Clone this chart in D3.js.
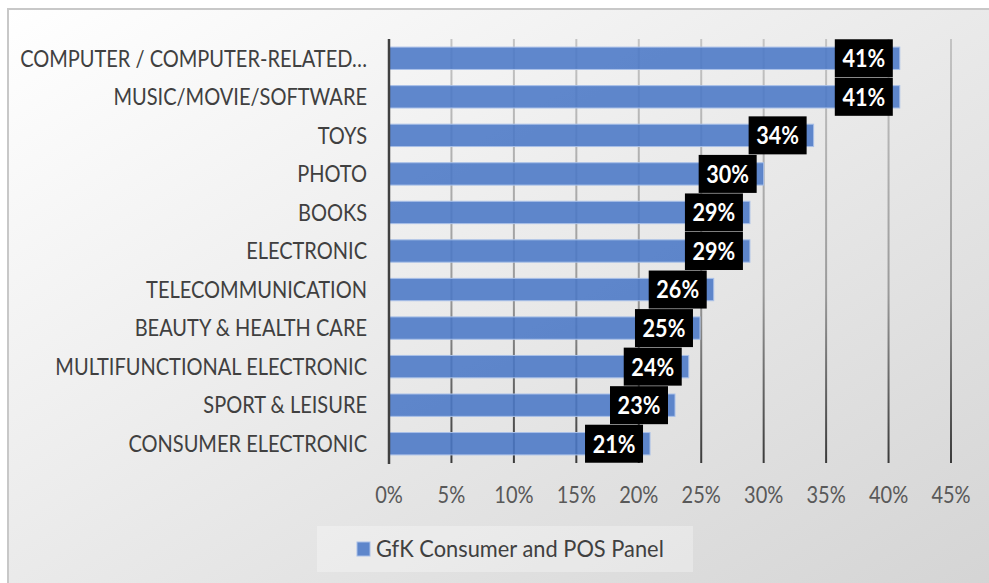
<!DOCTYPE html>
<html><head><meta charset="utf-8">
<script src="https://cdn.jsdelivr.net/npm/d3@7"></script>
<style>html,body{margin:0;padding:0;background:#fff;}svg{display:block;}</style>
</head><body>
<svg id="c" width="989" height="583"></svg>
<script>
const categories = ["COMPUTER / COMPUTER-RELATED…","MUSIC/MOVIE/SOFTWARE","TOYS","PHOTO","BOOKS","ELECTRONIC","TELECOMMUNICATION","BEAUTY & HEALTH CARE","MULTIFUNCTIONAL ELECTRONIC","SPORT & LEISURE","CONSUMER ELECTRONIC"];
const values = [0.409,0.409,0.34,0.30,0.289,0.289,0.26,0.249,0.24,0.229,0.209];
const tickValues = [0,0.05,0.10,0.15,0.20,0.25,0.30,0.35,0.40,0.45];
const seriesName = "GfK Consumer and POS Panel";

const svg = d3.select("#c");
const defs = svg.append("defs");
const bg = defs.append("linearGradient").attr("id","bg").attr("x1","0").attr("y1","0").attr("x2","1").attr("y2","1");
bg.append("stop").attr("offset","0").attr("stop-color","#ffffff");
bg.append("stop").attr("offset","1").attr("stop-color","#d4d4d4");
const gl = defs.append("linearGradient").attr("id","gl").attr("gradientUnits","userSpaceOnUse")
  .attr("x1",0).attr("y1",39).attr("x2",0).attr("y2",463);
gl.append("stop").attr("offset","0").attr("stop-color","#c4c4c4");
gl.append("stop").attr("offset","0.6").attr("stop-color","#9a9a9a");
gl.append("stop").attr("offset","1").attr("stop-color","#3a3a3a");

svg.append("rect").attr("x",8).attr("y",9).attr("width",990).attr("height",585)
  .attr("fill","url(#bg)").attr("stroke","#c8c8c8").attr("stroke-width",2);

const font = "Lato, 'Open Sans', sans-serif";
const SX = 0.87; // horizontal condensing to mimic the narrow original typeface
const x = d3.scaleLinear().domain([0,0.45]).range([389,951]);
const y = d3.scaleBand().domain(categories).range([39,463]).paddingInner(0.42).paddingOuter(0.21);

// gridlines
svg.append("g").selectAll("line").data(tickValues.slice(1)).join("line")
  .attr("x1",d=>x(d)).attr("x2",d=>x(d)).attr("y1",39).attr("y2",463)
  .attr("stroke","url(#gl)").attr("stroke-width",2);

// bars
svg.append("g").selectAll("rect").data(values).join("rect")
  .attr("x",x(0)).attr("y",(d,i)=>y(categories[i]))
  .attr("width",d=>x(d)-x(0)).attr("height",y.bandwidth())
  .attr("fill","#4a78c6").attr("fill-opacity",0.88)
  .attr("stroke","#a9c0e8").attr("stroke-width",1);

// axis line
svg.append("line").attr("x1",x(0)).attr("x2",x(0)).attr("y1",39).attr("y2",464)
  .attr("stroke","#404040").attr("stroke-width",2.5);

// category labels
svg.append("g").selectAll("text").data(categories).join("text")
  .attr("transform",d=>`translate(367,${y(d)+y.bandwidth()/2}) scale(${SX},1)`)
  .attr("dy","0.36em")
  .attr("text-anchor","end").attr("font-family",font).attr("font-size",23)
  .attr("fill","#404040").text(d=>d);

// tick labels
const ax = svg.append("g");
ax.selectAll("text").data(tickValues).join("text")
  .attr("transform",d=>`translate(${x(d)},495) scale(${SX},1)`)
  .attr("dy","0.36em").attr("text-anchor","middle")
  .attr("font-family",font).attr("font-size",23).attr("fill","#595959")
  .text(d3.format(".0%"));

// data labels
const lab = svg.append("g").selectAll("g").data(values).join("g")
  .attr("transform",(d,i)=>`translate(${x(d)-7},${y(categories[i])+y.bandwidth()/2})`);
lab.append("rect").attr("x",-58).attr("y",-19).attr("width",58).attr("height",38).attr("fill","#000");
lab.append("text").attr("transform",`translate(-29,0) scale(0.9,1)`).attr("dy","0.37em").attr("text-anchor","middle")
  .attr("font-family",font).attr("font-weight","bold").attr("font-size",24).attr("fill","#fff")
  .text(d=>Math.round(d*100)+"%");

// legend
const lg = svg.append("g");
lg.append("rect").attr("x",317).attr("y",526).attr("width",376).attr("height",46).attr("fill","#ffffff").attr("fill-opacity",0.3);
lg.append("rect").attr("x",357).attr("y",542).attr("width",13).attr("height",14).attr("fill","#4a78c6").attr("fill-opacity",0.88)
  .attr("stroke","#a9c0e8").attr("stroke-width",1);
lg.append("text").attr("transform",`translate(376,549) scale(0.95,1)`).attr("dy","0.36em")
  .attr("font-family",font).attr("font-size",23)
  .attr("fill","#404040").text(seriesName);
</script>
</body></html>
